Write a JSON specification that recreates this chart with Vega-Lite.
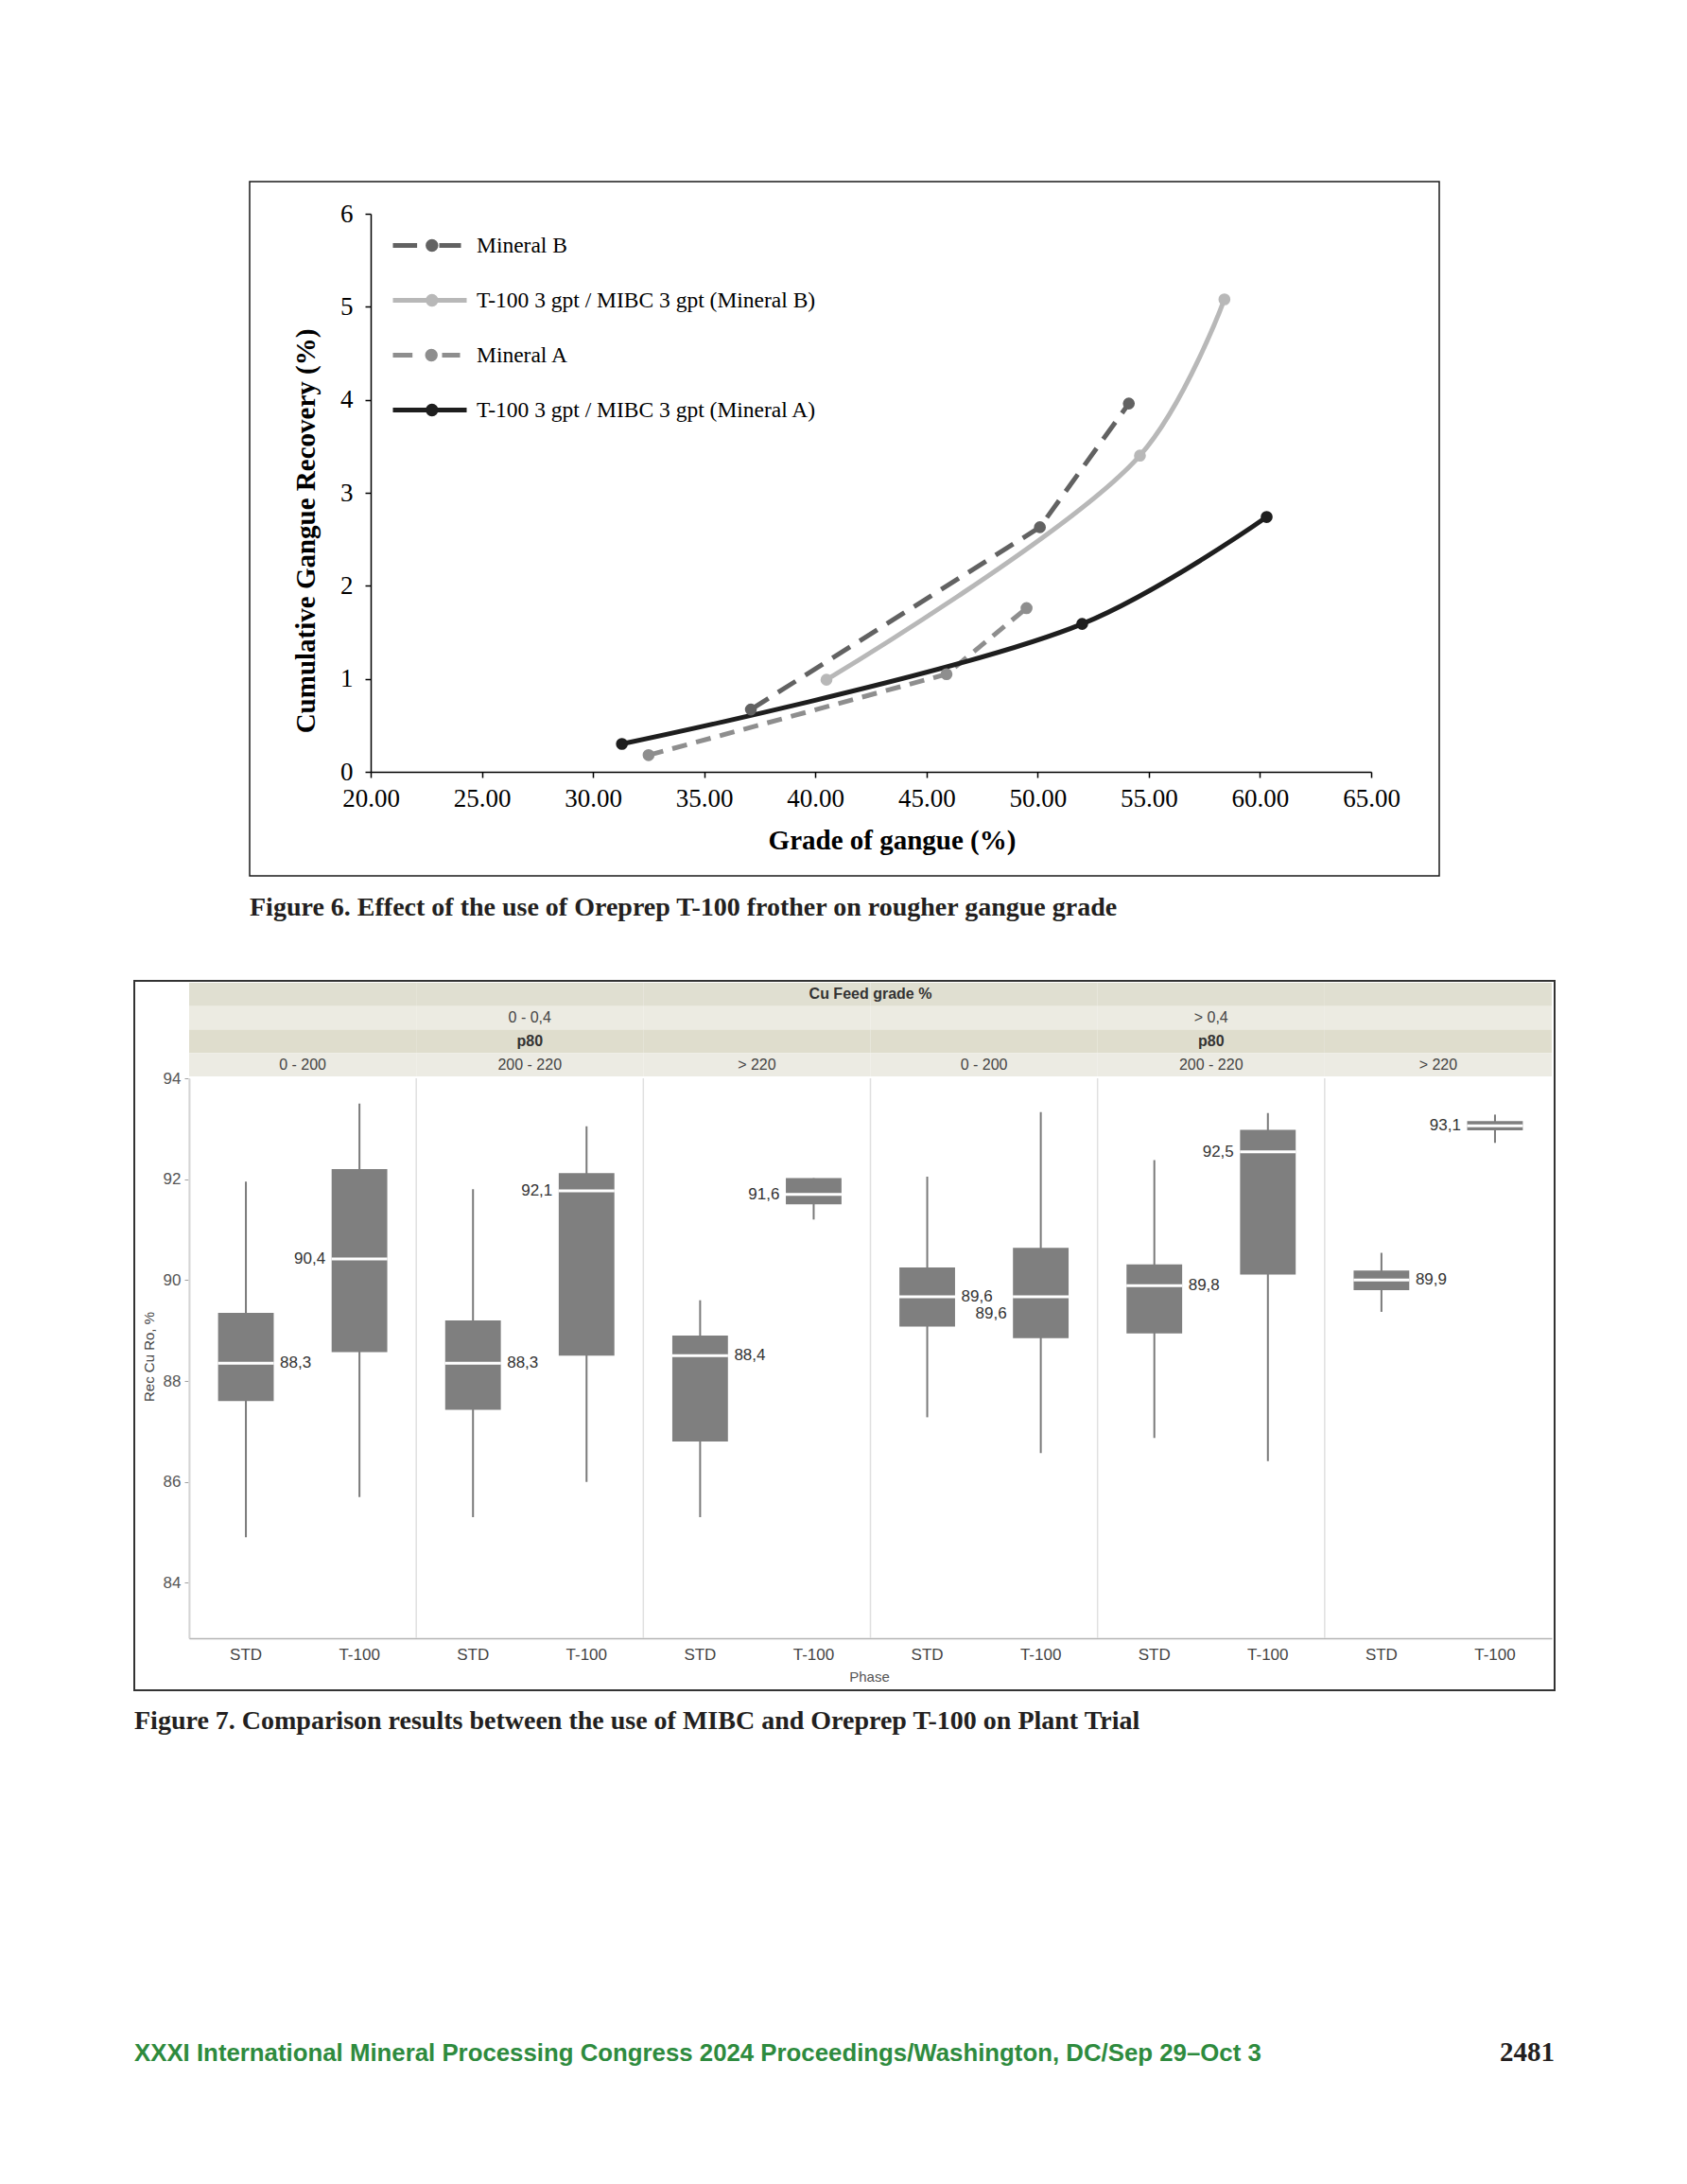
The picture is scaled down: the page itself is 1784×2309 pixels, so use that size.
{
 "$schema": "https://vega.github.io/schema/vega-lite/v6.json",
 "background": "white",
 "padding": {"left": 141, "top": 191, "right": 0, "bottom": 0},
 "autosize": {"type": "pad"},
 "bounds": "flush",
 "center": true,
 "spacing": 111,
 "config": {"view": {"stroke": null}, "axis": {"grid": false}},
 "datasets": {
  "fig6": [
   {"series": "Mineral B", "grade": 37.1, "recovery": 0.67},
   {"series": "Mineral B", "grade": 50.1, "recovery": 2.63},
   {"series": "Mineral B", "grade": 54.1, "recovery": 3.96},
   {"series": "T-100 3 gpt / MIBC 3 gpt (Mineral B)", "grade": 40.5, "recovery": 0.99},
   {"series": "T-100 3 gpt / MIBC 3 gpt (Mineral B)", "grade": 54.6, "recovery": 3.40},
   {"series": "T-100 3 gpt / MIBC 3 gpt (Mineral B)", "grade": 58.4, "recovery": 5.08},
   {"series": "Mineral A", "grade": 32.5, "recovery": 0.18},
   {"series": "Mineral A", "grade": 45.9, "recovery": 1.05},
   {"series": "Mineral A", "grade": 49.5, "recovery": 1.76},
   {"series": "T-100 3 gpt / MIBC 3 gpt (Mineral A)", "grade": 31.3, "recovery": 0.30},
   {"series": "T-100 3 gpt / MIBC 3 gpt (Mineral A)", "grade": 52.0, "recovery": 1.59},
   {"series": "T-100 3 gpt / MIBC 3 gpt (Mineral A)", "grade": 60.3, "recovery": 2.74}
  ],
  "fig7": [
   {"cu": "0 - 0,4", "p80": "0 - 200", "phase": "STD", "low": 84.9, "q1": 87.6, "median": 88.35, "q3": 89.35, "high": 91.95, "label": "88,3"},
   {"cu": "0 - 0,4", "p80": "0 - 200", "phase": "T-100", "low": 85.7, "q1": 88.57, "median": 90.42, "q3": 92.2, "high": 93.5, "label": "90,4"},
   {"cu": "0 - 0,4", "p80": "200 - 220", "phase": "STD", "low": 85.3, "q1": 87.43, "median": 88.35, "q3": 89.2, "high": 91.8, "label": "88,3"},
   {"cu": "0 - 0,4", "p80": "200 - 220", "phase": "T-100", "low": 86.0, "q1": 88.5, "median": 91.77, "q3": 92.12, "high": 93.05, "label": "92,1"},
   {"cu": "0 - 0,4", "p80": "> 220", "phase": "STD", "low": 85.3, "q1": 86.8, "median": 88.5, "q3": 88.9, "high": 89.6, "label": "88,4"},
   {"cu": "0 - 0,4", "p80": "> 220", "phase": "T-100", "low": 91.2, "q1": 91.5, "median": 91.7, "q3": 92.02, "high": 92.02, "label": "91,6"},
   {"cu": "> 0,4", "p80": "0 - 200", "phase": "STD", "low": 87.28, "q1": 89.08, "median": 89.67, "q3": 90.25, "high": 92.05, "label": "89,6"},
   {"cu": "> 0,4", "p80": "0 - 200", "phase": "T-100", "low": 86.57, "q1": 88.85, "median": 89.67, "q3": 90.64, "high": 93.33, "label": "89,6"},
   {"cu": "> 0,4", "p80": "200 - 220", "phase": "STD", "low": 86.87, "q1": 88.94, "median": 89.89, "q3": 90.31, "high": 92.38, "label": "89,8"},
   {"cu": "> 0,4", "p80": "200 - 220", "phase": "T-100", "low": 86.41, "q1": 90.11, "median": 92.54, "q3": 92.98, "high": 93.31, "label": "92,5"},
   {"cu": "> 0,4", "p80": "> 220", "phase": "STD", "low": 89.37, "q1": 89.8, "median": 90.0, "q3": 90.19, "high": 90.54, "label": "89,9"},
   {"cu": "> 0,4", "p80": "> 220", "phase": "T-100", "low": 92.72, "q1": 92.97, "median": 93.06, "q3": 93.15, "high": 93.28, "label": "93,1"}
  ],
  "footer": [
   {"part": "left", "text": "XXXI International Mineral Processing Congress 2024 Proceedings/Washington, DC/Sep 29–Oct 3"},
   {"part": "right", "text": "2481"}
  ]
 },
 "vconcat": [
  {
   "width": 1258, "height": 734,
   "view": {"stroke": "#1a1a1a", "strokeWidth": 1.5},
   "title": {"text": "Figure 6.  Effect of the use of Oreprep T-100 frother on rougher gangue grade", "orient": "bottom", "anchor": "start", "frame": "group", "offset": 42, "baseline": "alphabetic", "font": "Liberation Serif", "fontSize": 28, "fontWeight": "bold", "color": "#231f20"},
   "data": {"name": "fig6"},
   "encoding": {
    "x": {"field": "grade", "type": "quantitative", "title": "Grade of gangue (%)",
     "scale": {"domain": [20, 65], "range": [128, 1186], "nice": false, "zero": false},
     "axis": {"values": [20, 25, 30, 35, 40, 45, 50, 55, 60, 65], "format": ".2f", "offset": -110, "domainColor": "#000", "domainWidth": 1.5, "tickColor": "#000", "tickWidth": 1.5, "tickSize": 6, "labelFont": "Liberation Serif", "labelFontSize": 27, "labelColor": "#000", "labelPadding": 9, "labelOverlap": false, "labelFlush": false, "titleFont": "Liberation Serif", "titleFontSize": 29, "titleFontWeight": "bold", "titleColor": "#000", "titleX": 679, "titleY": 81, "titleAlign": "center", "titleBaseline": "alphabetic"}},
    "y": {"field": "recovery", "type": "quantitative", "title": "Cumulative Gangue Recovery (%)",
     "scale": {"domain": [0, 6], "range": [624, 34], "nice": false, "zero": false},
     "axis": {"values": [0, 1, 2, 3, 4, 5, 6], "format": "d", "offset": -128, "domainColor": "#000", "domainWidth": 1.5, "tickColor": "#000", "tickWidth": 1.5, "tickSize": 6, "labelFont": "Liberation Serif", "labelFontSize": 27, "labelColor": "#000", "labelPadding": 13, "labelOverlap": false, "labelFlush": false, "titleFont": "Liberation Serif", "titleFontSize": 29, "titleFontWeight": "bold", "titleColor": "#000", "titleAngle": 270, "titleX": -69, "titleY": 369, "titleAlign": "center", "titleBaseline": "middle"}}
   },
   "layer": [
    {"transform": [{"filter": "false"}],
     "mark": {"type": "point", "filled": false, "strokeWidth": 5},
     "encoding": {
      "color": {"field": "series", "type": "nominal",
       "scale": {"domain": ["Mineral B", "T-100 3 gpt / MIBC 3 gpt (Mineral B)", "Mineral A", "T-100 3 gpt / MIBC 3 gpt (Mineral A)"], "range": ["#626262", "#b8b8b8", "#8e8e8e", "#1e1e1e"]},
       "legend": {"orient": "none", "legendX": 287, "legendY": 45, "title": null, "padding": 0, "symbolSize": 1600, "symbolStrokeWidth": 5, "symbolOpacity": 1, "symbolFillColor": "transparent", "rowPadding": 21, "labelOffset": 30, "labelFont": "Liberation Serif", "labelFontSize": 23.5, "labelColor": "#000", "labelLimit": 700}},
      "shape": {"field": "series", "type": "nominal",
       "scale": {"domain": ["Mineral B", "T-100 3 gpt / MIBC 3 gpt (Mineral B)", "Mineral A", "T-100 3 gpt / MIBC 3 gpt (Mineral A)"],
        "range": [
         "M-1.8,0H-0.52M0.65,0H1.8M0.475,0A0.21,0.21 0 1,1 0.055,0A0.21,0.21 0 1,1 0.475,0M0.34,0A0.075,0.075 0 1,1 0.19,0A0.075,0.075 0 1,1 0.34,0",
         "M-1.8,0H2.1M0.475,0A0.21,0.21 0 1,1 0.055,0A0.21,0.21 0 1,1 0.475,0M0.34,0A0.075,0.075 0 1,1 0.19,0A0.075,0.075 0 1,1 0.34,0",
         "M-1.8,0H-0.765M0.8,0H1.75M0.445,0A0.21,0.21 0 1,1 0.025,0A0.21,0.21 0 1,1 0.445,0M0.31,0A0.075,0.075 0 1,1 0.16,0A0.075,0.075 0 1,1 0.31,0",
         "M-1.8,0H2.1M0.475,0A0.21,0.21 0 1,1 0.055,0A0.21,0.21 0 1,1 0.475,0M0.34,0A0.075,0.075 0 1,1 0.19,0A0.075,0.075 0 1,1 0.34,0"
        ]}}
     }},
    {"data": {"values": [{"frame": "plot"}]},
     "mark": {"type": "rect", "fillOpacity": 0, "stroke": "#1a1a1a", "strokeWidth": 1.5},
     "encoding": {"x": {"datum": 20, "type": "quantitative"}, "x2": {"datum": 65}, "y": {"datum": 0, "type": "quantitative"}, "y2": {"datum": 6}}},
    {"transform": [{"filter": "datum.series == 'Mineral B'"}],
     "mark": {"type": "line", "strokeWidth": 5, "interpolate": "linear", "strokeDash": [22, 12]},
     "encoding": {
      "color": {"field": "series", "type": "nominal", "scale": {"domain": ["Mineral B", "T-100 3 gpt / MIBC 3 gpt (Mineral B)", "Mineral A", "T-100 3 gpt / MIBC 3 gpt (Mineral A)"], "range": ["#626262", "#b8b8b8", "#8e8e8e", "#1e1e1e"]}}
     }},
    {"transform": [{"filter": "datum.series == 'Mineral A'"}],
     "mark": {"type": "line", "strokeWidth": 5, "interpolate": "linear", "strokeDash": [16, 10]},
     "encoding": {
      "color": {"field": "series", "type": "nominal", "scale": {"domain": ["Mineral B", "T-100 3 gpt / MIBC 3 gpt (Mineral B)", "Mineral A", "T-100 3 gpt / MIBC 3 gpt (Mineral A)"], "range": ["#626262", "#b8b8b8", "#8e8e8e", "#1e1e1e"]}}
     }},
    {"transform": [{"filter": "datum.series != 'Mineral B' && datum.series != 'Mineral A'"}],
     "mark": {"type": "line", "strokeWidth": 5, "interpolate": "catmull-rom"},
     "encoding": {
      "color": {"field": "series", "type": "nominal", "scale": {"domain": ["Mineral B", "T-100 3 gpt / MIBC 3 gpt (Mineral B)", "Mineral A", "T-100 3 gpt / MIBC 3 gpt (Mineral A)"], "range": ["#626262", "#b8b8b8", "#8e8e8e", "#1e1e1e"]}}
     }},
    {"mark": {"type": "point", "filled": true, "size": 160, "opacity": 1},
     "encoding": {
      "color": {"field": "series", "type": "nominal", "scale": {"domain": ["Mineral B", "T-100 3 gpt / MIBC 3 gpt (Mineral B)", "Mineral A", "T-100 3 gpt / MIBC 3 gpt (Mineral A)"], "range": ["#626262", "#b8b8b8", "#8e8e8e", "#1e1e1e"]}}
     }}
   ]
  },
  {
   "width": 1502, "height": 750,
   "view": {"stroke": "#333333", "strokeWidth": 2},
   "title": {"text": "Figure 7.  Comparison results between the use of MIBC and Oreprep T-100 on Plant Trial", "orient": "bottom", "anchor": "start", "frame": "group", "offset": 41, "baseline": "alphabetic", "font": "Liberation Serif", "fontSize": 28, "fontWeight": "bold", "color": "#231f20"},
   "data": {"name": "fig7"},
   "transform": [
    {"calculate": "datum.cu + ' | ' + datum.p80", "as": "panel"},
    {"calculate": "datum.panel + ' | ' + datum.phase", "as": "slot"}
   ],
   "layer": [
    {
     "encoding": {"x": {"field": "slot", "type": "nominal", "title": "Phase",
      "scale": {"domain": ["0 - 0,4 | 0 - 200 | STD", "0 - 0,4 | 0 - 200 | T-100", "0 - 0,4 | 200 - 220 | STD", "0 - 0,4 | 200 - 220 | T-100", "0 - 0,4 | > 220 | STD", "0 - 0,4 | > 220 | T-100", "> 0,4 | 0 - 200 | STD", "> 0,4 | 0 - 200 | T-100", "> 0,4 | 200 - 220 | STD", "> 0,4 | 200 - 220 | T-100", "> 0,4 | > 220 | STD", "> 0,4 | > 220 | T-100"], "range": [58, 1499], "paddingInner": 0, "paddingOuter": 0},
      "axis": {"labelExpr": "split(datum.label, ' | ')[2]", "offset": -55, "ticks": false, "tickSize": 0, "domainColor": "#b4b4b4", "domainWidth": 1.5, "labelAngle": 0, "labelFont": "Liberation Sans Narrow, Liberation Sans", "labelFontSize": 17, "labelColor": "#444", "labelPadding": 9, "titleFont": "Liberation Sans Narrow, Liberation Sans", "titleFontSize": 15, "titleFontWeight": "normal", "titleColor": "#555", "titleX": 777, "titleY": 45, "titleAlign": "center", "titleBaseline": "alphabetic"}}},
     "layer": [
      {"transform": [{"filter": "datum.phase == 'STD'"}],
       "mark": {"type": "rule", "color": "#e0e0e0", "strokeWidth": 1.5},
       "encoding": {
        "x": {"field": "slot", "type": "nominal", "title": "Phase", "bandPosition": 0,
         "scale": {"domain": ["0 - 0,4 | 0 - 200 | STD", "0 - 0,4 | 0 - 200 | T-100", "0 - 0,4 | 200 - 220 | STD", "0 - 0,4 | 200 - 220 | T-100", "0 - 0,4 | > 220 | STD", "0 - 0,4 | > 220 | T-100", "> 0,4 | 0 - 200 | STD", "> 0,4 | 0 - 200 | T-100", "> 0,4 | 200 - 220 | STD", "> 0,4 | 200 - 220 | T-100", "> 0,4 | > 220 | STD", "> 0,4 | > 220 | T-100"], "range": [58, 1499], "paddingInner": 0, "paddingOuter": 0}},
        "y": {"datum": 94, "type": "quantitative", "scale": {"domain": [82.9, 94], "range": [695, 103], "nice": false, "zero": false}},
        "y2": {"datum": 82.9}}},
      {"mark": {"type": "rule", "color": "#7a7a7a", "strokeWidth": 2},
       "encoding": {
        "y": {"field": "low", "type": "quantitative", "title": "Rec Cu Ro, %",
         "scale": {"domain": [82.9, 94], "range": [695, 103], "nice": false, "zero": false},
         "axis": {"values": [84, 86, 88, 90, 92, 94], "format": "d", "offset": -58, "domainColor": "#b4b4b4", "domainWidth": 1.5, "tickColor": "#a0a0a0", "tickSize": 5, "labelFont": "Liberation Sans Narrow, Liberation Sans", "labelFontSize": 17, "labelColor": "#555", "labelPadding": 4, "labelFlush": false, "titleFont": "Liberation Sans", "titleFontSize": 15, "titleFontWeight": "normal", "titleColor": "#444", "titleAngle": 270, "titleX": -43, "titleY": 397, "titleAlign": "center", "titleBaseline": "middle"}},
        "y2": {"field": "high"}}},
      {"mark": {"type": "bar", "color": "#7f7f7f", "width": {"band": 0.49}},
       "encoding": {
        "y": {"field": "q1", "type": "quantitative", "title": "Rec Cu Ro, %", "scale": {"domain": [82.9, 94], "range": [695, 103], "nice": false, "zero": false}},
        "y2": {"field": "q3"}}},
      {"mark": {"type": "tick", "color": "#ffffff", "thickness": 3, "size": 59, "opacity": 1},
       "encoding": {
        "y": {"field": "median", "type": "quantitative", "title": "Rec Cu Ro, %", "scale": {"domain": [82.9, 94], "range": [695, 103], "nice": false, "zero": false}}}},
      {"transform": [{"filter": "datum.phase == 'STD'"}],
       "mark": {"type": "text", "align": "left", "baseline": "middle", "dx": 36, "font": "Liberation Sans Narrow, Liberation Sans", "fontSize": 17, "color": "#333"},
       "encoding": {
        "y": {"field": "median", "type": "quantitative", "title": "Rec Cu Ro, %", "scale": {"domain": [82.9, 94], "range": [695, 103], "nice": false, "zero": false}},
        "text": {"field": "label"}}},
      {"transform": [{"filter": "datum.phase == 'T-100' && !(datum.cu == '> 0,4' && datum.p80 == '0 - 200')"}],
       "mark": {"type": "text", "align": "right", "baseline": "middle", "dx": -36, "font": "Liberation Sans Narrow, Liberation Sans", "fontSize": 17, "color": "#333"},
       "encoding": {
        "y": {"field": "median", "type": "quantitative", "title": "Rec Cu Ro, %", "scale": {"domain": [82.9, 94], "range": [695, 103], "nice": false, "zero": false}},
        "text": {"field": "label"}}},
      {"transform": [{"filter": "datum.phase == 'T-100' && datum.cu == '> 0,4' && datum.p80 == '0 - 200'"}],
       "mark": {"type": "text", "align": "right", "baseline": "middle", "dx": -36, "dy": 18, "font": "Liberation Sans Narrow, Liberation Sans", "fontSize": 17, "color": "#333"},
       "encoding": {
        "y": {"field": "median", "type": "quantitative", "title": "Rec Cu Ro, %", "scale": {"domain": [82.9, 94], "range": [695, 103], "nice": false, "zero": false}},
        "text": {"field": "label"}}}
     ]
    },
    {
     "transform": [{"filter": "datum.phase == 'STD'"}],
     "layer": [
      {
       "encoding": {"x": {"field": "panel", "type": "nominal", "sort": null, "scale": {"range": [58, 1499], "paddingInner": 0, "paddingOuter": 0}, "axis": null}},
       "layer": [
        {"mark": {"type": "rect", "color": "#e0dfd1"}, "encoding": {"y": {"datum": "L1", "type": "nominal", "scale": {"domain": ["L1", "L2", "L3", "L4"], "range": [2, 101], "paddingInner": 0, "paddingOuter": 0}, "axis": null}}},
        {"mark": {"type": "rect", "color": "#ecebe2"}, "encoding": {"y": {"datum": "L2", "type": "nominal", "scale": {"domain": ["L1", "L2", "L3", "L4"], "range": [2, 101], "paddingInner": 0, "paddingOuter": 0}, "axis": null}}},
        {"mark": {"type": "rect", "color": "#dfddcd"}, "encoding": {"y": {"datum": "L3", "type": "nominal", "scale": {"domain": ["L1", "L2", "L3", "L4"], "range": [2, 101], "paddingInner": 0, "paddingOuter": 0}, "axis": null}}},
        {"mark": {"type": "rect", "color": "#ecebe3"}, "encoding": {"y": {"datum": "L4", "type": "nominal", "scale": {"domain": ["L1", "L2", "L3", "L4"], "range": [2, 101], "paddingInner": 0, "paddingOuter": 0}, "axis": null}}},
        {"mark": {"type": "text", "baseline": "middle", "font": "Liberation Sans Narrow, Liberation Sans", "fontSize": 16, "color": "#444"},
         "encoding": {"y": {"datum": "L4", "type": "nominal", "scale": {"domain": ["L1", "L2", "L3", "L4"], "range": [2, 101], "paddingInner": 0, "paddingOuter": 0}, "axis": null}, "text": {"field": "p80"}}}
       ]
      },
      {
       "transform": [{"filter": "datum.p80 == '0 - 200'"}],
       "encoding": {"x": {"field": "cu", "type": "nominal", "sort": null, "scale": {"range": [58, 1499], "paddingInner": 0, "paddingOuter": 0}, "axis": null}},
       "layer": [
        {"mark": {"type": "text", "baseline": "middle", "font": "Liberation Sans Narrow, Liberation Sans", "fontSize": 16, "color": "#444"},
         "encoding": {"y": {"datum": "L2", "type": "nominal", "scale": {"domain": ["L1", "L2", "L3", "L4"], "range": [2, 101], "paddingInner": 0, "paddingOuter": 0}, "axis": null}, "text": {"field": "cu"}}},
        {"mark": {"type": "text", "baseline": "middle", "text": "p80", "font": "Liberation Sans Narrow, Liberation Sans", "fontWeight": "bold", "fontSize": 16, "color": "#333"},
         "encoding": {"y": {"datum": "L3", "type": "nominal", "scale": {"domain": ["L1", "L2", "L3", "L4"], "range": [2, 101], "paddingInner": 0, "paddingOuter": 0}, "axis": null}}}
       ]
      },
      {
       "transform": [{"filter": "datum.p80 == '0 - 200' && datum.cu == '0 - 0,4'"}],
       "mark": {"type": "text", "baseline": "middle", "text": "Cu Feed grade %", "font": "Liberation Sans Narrow, Liberation Sans", "fontWeight": "bold", "fontSize": 16, "color": "#333"},
       "encoding": {
        "x": {"datum": "all", "type": "nominal", "scale": {"range": [58, 1499], "paddingInner": 0, "paddingOuter": 0}, "axis": null},
        "y": {"datum": "L1", "type": "nominal", "scale": {"domain": ["L1", "L2", "L3", "L4"], "range": [2, 101], "paddingInner": 0, "paddingOuter": 0}, "axis": null}}
      }
     ],
     "resolve": {"scale": {"x": "independent"}}
    }
   ],
   "resolve": {"scale": {"x": "independent", "y": "independent"}}
  },
  {
   "width": 1502, "height": 281,
   "data": {"name": "footer"},
   "encoding": {"y": {"datum": 0, "type": "quantitative", "scale": {"domain": [0, 1]}, "axis": null}},
   "layer": [
    {"transform": [{"filter": "datum.part == 'left'"}],
     "mark": {"type": "text", "align": "left", "baseline": "alphabetic", "font": "Liberation Sans", "fontWeight": "bold", "fontSize": 25.8, "color": "#2e8b3e"},
     "encoding": {"x": {"datum": 0, "type": "quantitative", "scale": {"domain": [0, 1]}, "axis": null}, "text": {"field": "text"}}},
    {"transform": [{"filter": "datum.part == 'right'"}],
     "mark": {"type": "text", "align": "right", "baseline": "alphabetic", "font": "Liberation Serif", "fontWeight": "bold", "fontSize": 29, "color": "#231f20"},
     "encoding": {"x": {"datum": 1, "type": "quantitative", "scale": {"domain": [0, 1]}, "axis": null}, "text": {"field": "text"}}}
   ]
  }
 ]
}
